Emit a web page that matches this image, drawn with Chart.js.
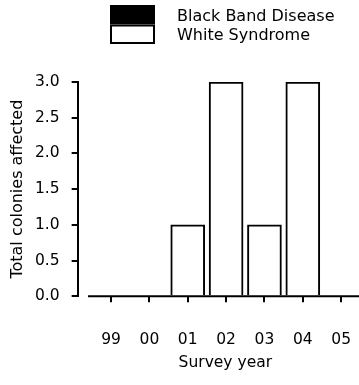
<!DOCTYPE html>
<html>
<head>
    <title>Total colonies affected</title>
    <script src="https://cdn.jsdelivr.net/npm/chart.js"></script>
    <style>
        html, body {
            margin: 0;
            padding: 0;
            background: #fff;
            overflow: hidden;
        }
        #chart-container {
            width: 359px;
            height: 385px;
            overflow: hidden;
        }
    </style>
</head>
<body>
<div id="chart-container">
    <canvas id="diseaseChart" width="373" height="385"></canvas>
</div>

<script>
    const years = ['99', '00', '01', '02', '03', '04', '05'];
    const blackBandDisease = [0, 0, 0, 0, 0, 0, 0];
    const whiteSyndrome = [0, 0, 1, 3, 1, 3, 0];
    const yTicks = [0, 0.5, 1, 1.5, 2, 2.5, 3];

    const FONT = 'DejaVu Sans';

    // legend with the two swatches stacked on top of each other
    const stackedLegend = {
        id: 'stackedLegend',
        afterDraw(chart) {
            const ctx = chart.ctx;
            ctx.save();
            chart.data.datasets.forEach((ds, i) => {
                const top = 5 + i * 19.5;
                ctx.fillStyle = ds.backgroundColor;
                ctx.fillRect(110, top, 45, 19.5);
                ctx.strokeStyle = '#000';
                ctx.lineWidth = 2;
                ctx.strokeRect(111, top + 1, 43, 17.5);
                ctx.fillStyle = '#000';
                ctx.font = '16px "' + FONT + '"';
                ctx.textBaseline = 'middle';
                ctx.textAlign = 'left';
                ctx.fillText(ds.label, 177, top + 11.5);
            });
            ctx.restore();
        }
    };

    // x axis line sits a little apart from the y axis
    const xAxisLine = {
        id: 'xAxisLine',
        afterDraw(chart) {
            const ctx = chart.ctx;
            const x = chart.scales.x;
            const y0 = chart.scales.y.getPixelForValue(0);
            ctx.save();
            ctx.strokeStyle = '#000';
            ctx.lineWidth = 2;
            ctx.beginPath();
            ctx.moveTo(x.getPixelForValue(-0.6), y0);
            ctx.lineTo(chart.chartArea.right, y0);
            ctx.stroke();
            ctx.restore();
        }
    };

    const ctx = document.getElementById('diseaseChart').getContext('2d');

    new Chart(ctx, {
        type: 'bar',
        data: {
            datasets: [{
                label: 'Black Band Disease',
                data: years.map((yr, i) => ({x: i, y: blackBandDisease[i]})),
                backgroundColor: '#000',
                borderColor: '#000',
                borderWidth: 2,
                barThickness: 34
            }, {
                label: 'White Syndrome',
                data: years.map((yr, i) => ({x: i, y: whiteSyndrome[i]})),
                backgroundColor: '#fff',
                borderColor: '#000',
                borderWidth: 2,
                barThickness: 34
            }]
        },
        options: {
            responsive: false,
            animation: false,
            devicePixelRatio: 1,
            layout: {
                padding: {
                    top: 82,
                    left: 0,
                    right: 0,
                    bottom: 10
                }
            },
            plugins: {
                legend: { display: false },
                tooltip: { enabled: false }
            },
            scales: {
                x: {
                    type: 'linear',
                    stacked: true,
                    offset: false,
                    min: -0.87,
                    max: 6.83,
                    afterBuildTicks: function (scale) {
                        scale.ticks = years.map((yr, i) => ({value: i}));
                    },
                    ticks: {
                        color: '#000',
                        padding: 4,
                        maxRotation: 0,
                        // tall line height pushes the year labels down without extra right padding
                        font: { family: FONT, size: 15.5, lineHeight: 4.3 },
                        callback: function (value) {
                            return years[value];
                        }
                    },
                    grid: {
                        offset: false,
                        drawOnChartArea: false,
                        drawTicks: true,
                        tickLength: 6,
                        color: '#000',
                        lineWidth: 2
                    },
                    border: { display: false },
                    title: {
                        display: true,
                        text: 'Survey year',
                        color: '#000',
                        font: { family: FONT, size: 15.5 },
                        padding: { top: -23, bottom: 2.5 }
                    }
                },
                y: {
                    stacked: true,
                    min: 0,
                    max: 3,
                    afterBuildTicks: function (scale) {
                        scale.ticks = yTicks.map(v => ({value: v}));
                    },
                    ticks: {
                        color: '#000',
                        padding: 12,
                        font: { family: FONT, size: 15.5 },
                        callback: function (value) {
                            return value.toFixed(1);
                        }
                    },
                    grid: {
                        drawOnChartArea: false,
                        drawTicks: true,
                        tickLength: 6,
                        color: '#000',
                        lineWidth: 2
                    },
                    border: { display: true, color: '#000', width: 2 },
                    title: {
                        display: true,
                        text: 'Total colonies affected',
                        color: '#000',
                        font: { family: FONT, size: 16 },
                        padding: { top: 8.4, bottom: -4.6 }
                    }
                }
            }
        },
        plugins: [stackedLegend, xAxisLine]
    });
</script>
</body>
</html>
